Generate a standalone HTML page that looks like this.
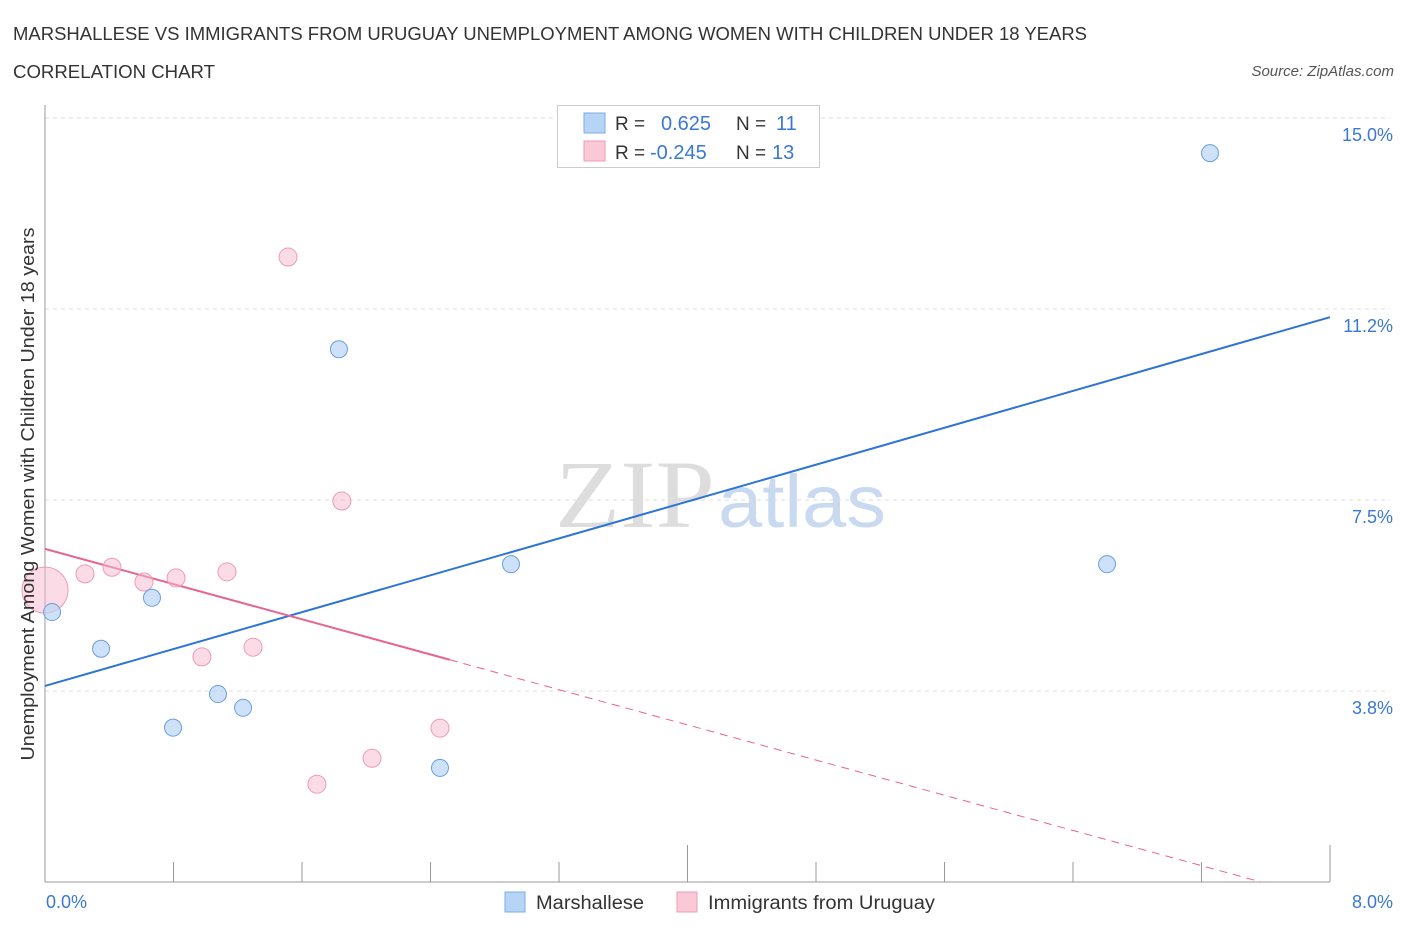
<!DOCTYPE html>
<html><head><meta charset="utf-8"><style>
body{margin:0;background:#fff;font-family:"Liberation Sans",sans-serif;}
svg{display:block}
</style></head><body>
<svg id="chart" width="1406" height="930">
<text x="13" y="40" font-size="18" fill="#333" textLength="1074" lengthAdjust="spacingAndGlyphs">MARSHALLESE VS IMMIGRANTS FROM URUGUAY UNEMPLOYMENT AMONG WOMEN WITH CHILDREN UNDER 18 YEARS</text>
<text x="13" y="78" font-size="18" fill="#333" textLength="202" lengthAdjust="spacingAndGlyphs">CORRELATION CHART</text>
<text x="1394" y="76" font-size="15" fill="#555" font-style="italic" text-anchor="end">Source: ZipAtlas.com</text>
<g>
<text x="555" y="527" font-size="96" fill="#ddd" font-family="Liberation Serif,serif" textLength="160" lengthAdjust="spacingAndGlyphs">ZIP</text>
<text x="718" y="527" font-size="74" fill="#c8d9f0" textLength="168" lengthAdjust="spacingAndGlyphs">atlas</text>
</g>
<g id="grid"></g><g id="axes"></g><g id="trend"></g><g id="points"></g>
<text transform="translate(34,494) rotate(-90)" font-size="18" fill="#333" text-anchor="middle" textLength="533" lengthAdjust="spacingAndGlyphs">Unemployment Among Women with Children Under 18 years</text>
<g>
<rect x="557.5" y="105.5" width="262" height="62" fill="#fff" stroke="#ccc"/>
<rect x="584" y="113" width="21" height="20" fill="#b8d4f5" stroke="#7aaee8"/>
<rect x="584" y="141" width="21" height="20" fill="#f9c9d7" stroke="#f09ab4"/>
<text x="615" y="130" font-size="19" fill="#333">R =</text>
<text x="661" y="130" font-size="20" fill="#3a78d4">0.625</text>
<text x="736" y="130" font-size="19" fill="#333">N =</text>
<text x="776" y="130" font-size="20" fill="#3a78d4">11</text>
<text x="615" y="159" font-size="19" fill="#333">R =</text>
<text x="650" y="159" font-size="20" fill="#3a78d4">-0.245</text>
<text x="736" y="159" font-size="19" fill="#333">N =</text>
<text x="772" y="159" font-size="20" fill="#3a78d4">13</text>
</g>
<g>
<rect x="505" y="892" width="20" height="20" fill="#b8d4f5" stroke="#7aaee8"/>
<text x="536" y="909" font-size="19" fill="#333" textLength="108" lengthAdjust="spacingAndGlyphs">Marshallese</text>
<rect x="677" y="892" width="20" height="20" fill="#f9c9d7" stroke="#f09ab4"/>
<text x="708" y="909" font-size="19" fill="#333" textLength="227" lengthAdjust="spacingAndGlyphs">Immigrants from Uruguay</text>
</g>
</svg>
<script>
const xTicks=[0,0.8,1.6,2.4,3.2,4.0,4.8,5.6,6.4,7.2,8.0];
const yTicks=[3.75,7.5,11.25,15.0];
const yTickLabels=["3.8%","7.5%","11.2%","15.0%"];
const marshX=[0.044,0.349,0.666,0.797,1.077,1.233,1.830,2.459,2.901,6.612,7.253];
const marshY=[5.30,4.58,5.58,3.03,3.69,3.42,10.46,2.24,6.24,6.24,14.31];
const urugX=[0,0.249,0.417,0.616,0.816,0.977,1.133,1.295,1.513,1.693,1.848,2.036,2.459];
const urugY=[5.73,6.05,6.18,5.89,5.97,4.42,6.09,4.61,12.27,1.92,7.48,2.43,3.02];
const urugR=[23,9,9,9,9,9,9,9,9,9,9,9,9];
const marshTrend=[3.85,11.09];
const urugTrend=[6.54,-0.37];
const urugSolidEnd=2.52;
const NS='http://www.w3.org/2000/svg';
const X=v=>45+v/8*1285, Y=v=>882-v/3.75*191;
function mk(p,t,a){const e=document.createElementNS(NS,t);for(const k in a)e.setAttribute(k,a[k]);document.getElementById(p).appendChild(e);return e;}
yTicks.forEach((v,i)=>{
 const g=mk('grid','line',{x1:45,x2:1390,y1:Y(v),y2:Y(v),stroke:'#ddd','stroke-dasharray':'4 4'});
 
 
 const t=mk('grid','text',{x:1393,y:Y(v)+23,'font-size':18,fill:'#3a78d4','text-anchor':'end'});
 t.textContent=yTickLabels[i];
 
 
});
const ax=mk('axes','line',{x1:45,x2:45,y1:105,y2:882,stroke:'#999'});


const bx=mk('axes','line',{x1:45,x2:1330,y1:882,y2:882,stroke:'#999'});


xTicks.forEach((v,i)=>{
 const tk=mk('axes','line',{x1:X(v),x2:X(v),y1:(i%5==0)?845:862,y2:882,stroke:'#999'});
 
 
});
const l0=mk('axes','text',{x:46,y:908,'font-size':18,fill:'#3a78d4'});l0.textContent='0.0%';


const l1=mk('axes','text',{x:1393,y:908,'font-size':18,fill:'#3a78d4','text-anchor':'end'});l1.textContent='8.0%';


const ul=v=>urugTrend[0]+(urugTrend[1]-urugTrend[0])*v/8;
const mt=mk('trend','line',{x1:X(0),y1:Y(marshTrend[0]),x2:X(8),y2:Y(marshTrend[1]),stroke:'#2e74d8','stroke-width':2});


const ut=mk('trend','line',{x1:X(0),y1:Y(ul(0)),x2:X(urugSolidEnd),y2:Y(ul(urugSolidEnd)),stroke:'#e8638e','stroke-width':2});


const xEnd=urugTrend[0]/(urugTrend[0]-urugTrend[1])*8;
const ud=mk('trend','line',{x1:X(urugSolidEnd),y1:Y(ul(urugSolidEnd)),x2:X(xEnd),y2:Y(0),stroke:'#e8638e','stroke-width':1,'stroke-dasharray':'8 6'});


urugX.forEach((v,i)=>{
 const c=mk('points','circle',{cx:X(v),cy:Y(urugY[i]),r:urugR[i],fill:'rgba(247,185,205,0.5)',stroke:'#f09ab4','stroke-width':1});
 
 
});
marshX.forEach((v,i)=>{
 const c=mk('points','circle',{cx:X(v),cy:Y(marshY[i]),r:8.5,fill:'rgba(184,212,245,0.7)',stroke:'#6c9fdc','stroke-width':1});
 
 
});
</script>
</body></html>
